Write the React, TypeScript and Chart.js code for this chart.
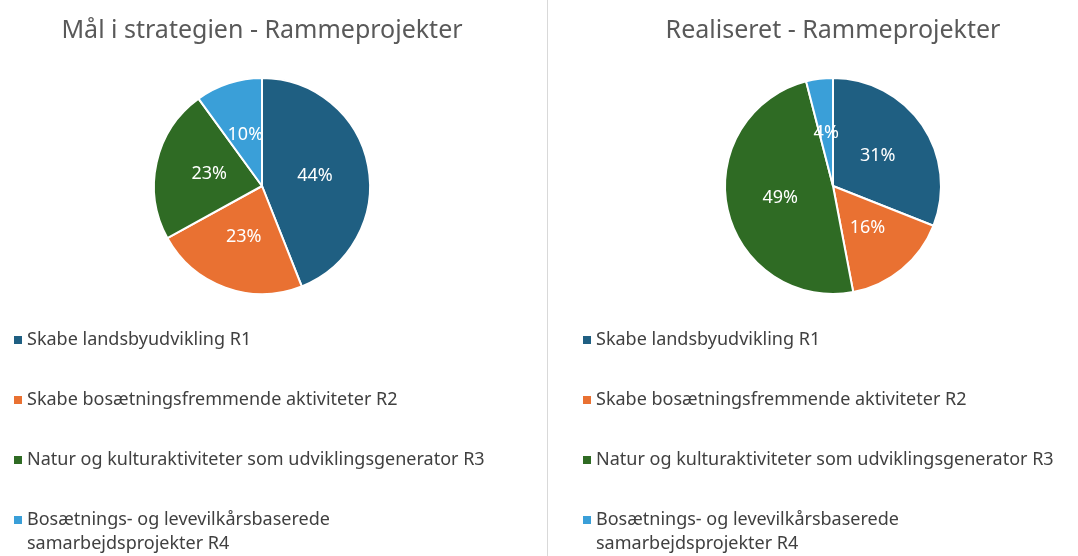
import React, { useEffect, useRef } from "react";
import { Chart, registerables } from "chart.js";

Chart.register(...registerables);

const categories = [
  "Skabe landsbyudvikling R1",
  "Skabe bosætningsfremmende aktiviteter R2",
  "Natur og kulturaktiviteter som udviklingsgenerator R3",
  "Bosætnings- og levevilkårsbaserede samarbejdsprojekter R4",
];
const goalValues = [44, 23, 23, 10];
const realisedValues = [31, 16, 49, 4];
const titles = ["Mål i strategien - Rammeprojekter", "Realiseret - Rammeprojekter"];
const colors = ["#1f5f82", "#e97132", "#2f6b24", "#3a9fd8"];

const FONT = "'Noto Sans', 'DejaVu Sans', sans-serif";

function wrap(ctx: CanvasRenderingContext2D, text: string, maxW: number): string[] {
  const words = text.split(" ");
  const lines: string[] = [];
  let cur = "";
  for (const w of words) {
    const t = cur ? cur + " " + w : w;
    if (ctx.measureText(t).width > maxW && cur) {
      lines.push(cur);
      cur = w;
    } else cur = t;
  }
  if (cur) lines.push(cur);
  return lines;
}

const decorPlugin = {
  id: "decor",
  afterDraw(chart: any, _args: any, opts: any) {
    const ctx: CanvasRenderingContext2D = chart.ctx;
    ctx.save();
    // data labels
    const meta = chart.getDatasetMeta(0);
    const ds = chart.data.datasets[0];
    ctx.fillStyle = "#ffffff";
    ctx.font = `18px ${FONT}`;
    ctx.textAlign = "center";
    ctx.textBaseline = "middle";
    meta.data.forEach((arc: any, i: number) => {
      const p = arc.tooltipPosition();
      ctx.fillText(ds.data[i] + "%", p.x, p.y);
    });
    // title
    ctx.fillStyle = "#595959";
    ctx.font = `25px ${FONT}`;
    const cx = (chart.chartArea.left + chart.chartArea.right) / 2;
    ctx.fillText(opts.title, cx, 31);
    // legend
    ctx.font = `18px ${FONT}`;
    ctx.textAlign = "left";
    let y = 340;
    const labels: string[] = chart.data.labels;
    labels.forEach((lab, i) => {
      const lines = wrap(ctx, lab, 480);
      ctx.fillStyle = ds.backgroundColor[i];
      ctx.fillRect(opts.legendX, y - 4, 8, 8);
      ctx.fillStyle = "#404040";
      lines.forEach((ln, k) => {
        ctx.fillText(ln, opts.legendX + 13, y + k * 24);
      });
      y += 60;
    });
    ctx.restore();
  },
};

function PieChart(props: {
  values: number[];
  title: string;
  left: number;
  width: number;
  pad: { left: number; right: number; top: number; bottom: number };
  legendX: number;
}) {
  const ref = useRef<HTMLCanvasElement>(null);
  useEffect(() => {
    const chart = new Chart(ref.current as HTMLCanvasElement, {
      type: "pie",
      data: {
        labels: categories,
        datasets: [
          {
            data: props.values,
            backgroundColor: colors,
            borderColor: "#ffffff",
            borderWidth: 2,
          },
        ],
      },
      options: {
        animation: false,
        responsive: false,
        layout: { padding: props.pad },
        plugins: {
          legend: { display: false },
          tooltip: { enabled: false },
          decor: { title: props.title, legendX: props.legendX },
        } as any,
      },
      plugins: [decorPlugin],
    });
    return () => chart.destroy();
  }, []);
  return (
    <canvas
      ref={ref}
      width={props.width}
      height={556}
      style={{ position: "absolute", left: props.left, top: 0, width: props.width, height: 556 }}
    />
  );
}

export default function App() {
  useEffect(() => {
    document.body.style.margin = "0";
  }, []);
  return (
    <div style={{ position: "relative", width: 1078, height: 556, background: "#ffffff", overflow: "hidden" }}>
      <PieChart
        values={goalValues}
        title={titles[0]}
        left={0}
        width={547}
        pad={{ left: 153, right: 176, top: 77, bottom: 261 }}
        legendX={14}
      />
      <div style={{ position: "absolute", left: 547, top: 0, width: 1, height: 556, background: "#d9d9d9" }} />
      <PieChart
        values={realisedValues}
        title={titles[1]}
        left={549}
        width={529}
        pad={{ left: 175, right: 136, top: 77, bottom: 261 }}
        legendX={34}
      />
    </div>
  );
}
